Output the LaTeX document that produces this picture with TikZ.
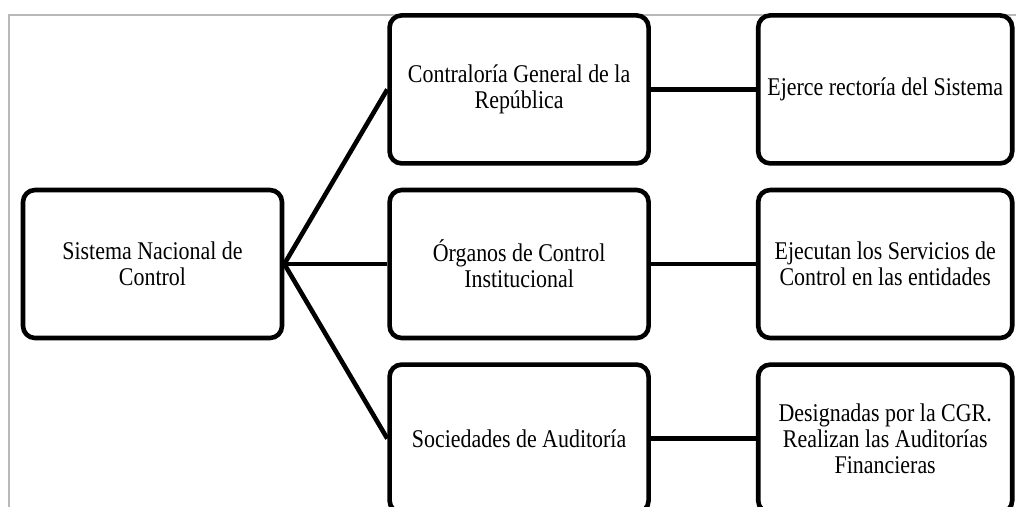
\documentclass[tikz,border=0pt]{standalone}
\usepackage{fontspec}
\setmainfont{Liberation Serif}[FakeStretch=0.86]
\usetikzlibrary{positioning}

\begin{document}
\begin{tikzpicture}[
    x=1pt, y=-1pt,
    node distance=22pt and 103pt,
    box/.style={rectangle, draw, line width=4.6pt, rounded corners=12pt, align=center, minimum width=259pt, minimum height=148pt, font=\fontsize{25.5}{26}\selectfont, fill=white},
    wide/.style={minimum width=254pt},
    conn/.style={line width=4.6pt}
]
\clip (0,0) rectangle (1016,506);
\draw[gray!55, line width=1.2pt] (9,540) |- (1040,15);

\node[box] (snc) at (152.5,264) {Sistema Nacional de\\Control};
\node[box, right=of snc] (oci) {Órganos de Control\\Institucional};
\node[box, above=of oci] (cgr) {Contraloría General de la\\República};
\node[box, below=of oci] (soa) {Sociedades de Auditoría};
\node[box, wide, right=105pt of cgr] (rect) {Ejerce rectoría del Sistema};
\node[box, wide, right=105pt of oci] (serv) {Ejecutan los Servicios de\\Control en las entidades};
\node[box, wide, right=105pt of soa] (aud) {Designadas por la CGR.\\Realizan las Auditorías\\Financieras};

\draw[conn] (snc.east) -- (cgr.west);
\draw[conn] (snc.east) -- (oci.west);
\draw[conn] (snc.east) -- (soa.west);
\draw[conn] (cgr) -- (rect);
\draw[conn] (oci) -- (serv);
\draw[conn] (soa) -- (aud);

\end{tikzpicture}
\end{document}
